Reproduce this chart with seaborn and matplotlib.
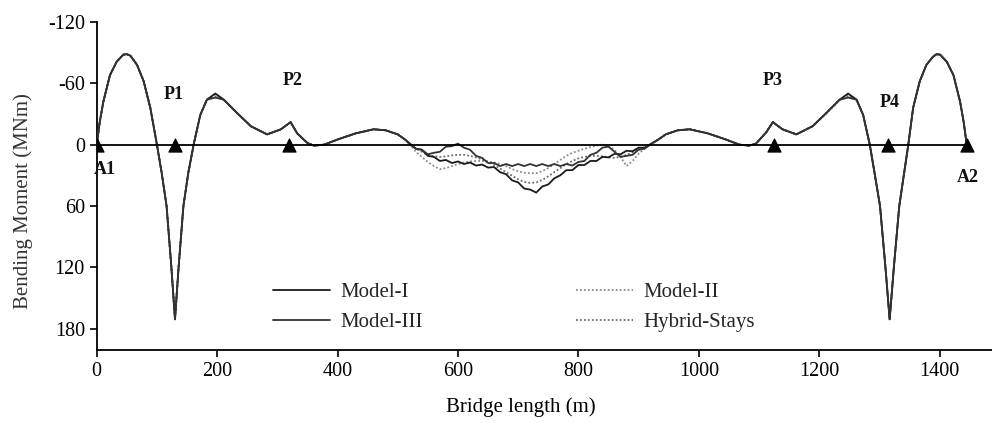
import matplotlib
matplotlib.use("Agg")
import matplotlib.pyplot as plt
import seaborn as sns
import pandas as pd

# ---------------- data ----------------
models = ["Model-I", "Model-III", "Model-II", "Hybrid-Stays"]

# common left part of the bridge (m, MNm)
x_left = [0, 5, 11, 22, 33, 44, 50, 56, 67, 78, 89, 100, 108, 116, 124, 130, 136, 144, 152, 161,
          172, 183, 197, 211, 233, 256, 283, 306, 322, 333, 350, 361, 378, 400, 430, 460, 480, 500, 512]
y_left = [0, -22, -42, -68, -81, -88, -88.5, -87, -78, -62, -36, 0, 28, 60, 120, 171, 120, 60, 28, 0,
          -29, -44, -48, -44, -31, -18, -10, -15, -22, -11, -1.5, 1, 0, -5, -11, -15, -14, -10, -5]

# central span, differs per model
x_mid = [520, 530, 540, 550, 560, 570, 580, 590, 600, 610, 620, 630, 640, 650,
         660, 670, 680, 690, 700, 710, 720, 730, 740, 750, 760, 770, 780, 790,
         800, 810, 820, 830, 840, 850, 860, 870, 880, 890, 900, 910, 920]
y_mid_model1 = [-1, 4, 5, 11, 12, 16, 15, 18, 16.5, 19, 17.5, 20.5, 19.5, 22.5,
                22, 27, 29, 35, 37, 43, 44, 47, 41, 39, 33, 30, 25, 25,
                20, 20, 16, 16, 12, 12.5, 9, 9.5, 6, 6.5, 3, 3, -0.5]
y_mid_model3 = [-1, 4, 5, 9.5, 8, 7, 2, 1.5, -1, 3, 5, 11, 13, 18,
                18, 21, 19, 21, 19, 21, 19, 21, 19, 21, 19, 21, 19, 20.5,
                17, 16, 10, 8, 3, 2, 7, 12, 11, 10, 5, 4, -0.5]
y_mid_model2 = [0, 7, 12, 17, 21, 24, 23, 21, 19, 17.5, 16.5, 16, 16, 16.5,
                17.5, 19, 21, 24, 26, 27.5, 28, 28, 26, 23, 19, 15, 11, 8,
                6, 4, 2.5, 1, 0, 1, 5, 12, 21, 16, 9, 4, 0]
y_mid_hybrid = [0, 4, 7, 10, 11.5, 12, 11.5, 10.5, 10, 10, 11, 12.5, 14.5, 17,
                20, 23.5, 27, 30.5, 34, 36.5, 37.5, 37, 34.5, 31, 27, 23, 19, 16,
                13.5, 12, 11, 11, 11.5, 12.5, 13, 12, 10, 7.5, 5, 2.5, 0]

# common right part
x_right = [933, 945, 965, 985, 1015, 1045, 1067, 1084, 1095, 1112, 1123, 1139, 1162, 1189,
           1212, 1234, 1248, 1262, 1273, 1284, 1292, 1301, 1310, 1317, 1324, 1333, 1341,
           1348, 1356, 1367, 1378, 1389, 1395, 1401, 1412, 1423, 1434, 1440, 1445]
y_right = [-5, -10, -14, -15, -11, -5, 0, 1, -1, -12, -22, -15, -10, -18,
           -31, -44, -48, -44, -29, 0, 28, 60, 120, 171, 120, 60, 28,
           0, -36, -62, -78, -86, -88.5, -88, -81, -68, -42, -22, 0]

# side-span hump peaks (m ~197 and ~1248) per model
hump_peak = [-50, -46, -49, -47]

# supports
support_x = [0, 130, 320, 1125, 1315, 1445]
support_names = ["A1", "P1", "P2", "P3", "P4", "A2"]
label_x = [14, 127, 325, 1122, 1317, 1447]
label_y = [24, -49, -63, -63, -41, 32]

# ---------------- build table ----------------
mids = [y_mid_model1, y_mid_model3, y_mid_model2, y_mid_hybrid]
rows = []
for m, mid, hp in zip(models, mids, hump_peak):
    yl = list(y_left)
    yl[x_left.index(197)] = hp
    yr = list(y_right)
    yr[x_right.index(1248)] = hp
    xs = x_left + x_mid + x_right
    ys = yl + mid + yr
    for a, b in zip(xs, ys):
        rows.append((m, a, b))
df = pd.DataFrame(rows, columns=["model", "x", "y"])

# ---------------- plot ----------------
sns.set_style("ticks")
plt.rcParams["font.family"] = ["Liberation Serif", "DejaVu Serif"]
plt.rcParams["axes.unicode_minus"] = False

fig = plt.figure(figsize=(9.92, 4.23), dpi=100)
ax = fig.add_axes([0.0975, 0.1726, 0.9025, 0.7754])

styles = {
    "Model-I": dict(color="#1a1a1a", linestyle="-", lw=1.3, zorder=4),
    "Model-III": dict(color="#333333", linestyle="-", lw=1.3, zorder=4),
    "Model-II": dict(color="#8a8a8a", linestyle=(0, (1, 1.2)), lw=1.3, zorder=3),
    "Hybrid-Stays": dict(color="#6a6a6a", linestyle=(0, (1, 1.2)), lw=1.3, zorder=3),
}
handles = {}
for m in ["Model-II", "Hybrid-Stays", "Model-I", "Model-III"]:
    sub = df[df.model == m]
    sns.lineplot(data=sub, x="x", y="y", sort=False, estimator=None, ax=ax,
                 label=m, **styles[m])
    handles[m] = ax.get_lines()[-1]

ax.hlines(0, support_x[0], support_x[-1], color="black", lw=1.3, zorder=5)
sns.scatterplot(x=support_x, y=[0] * len(support_x), marker="^", s=90,
                color="black", edgecolor="black", ax=ax, zorder=6)

for nm, lx, ly in zip(support_names, label_x, label_y):
    ax.text(lx, ly, nm, ha="center", va="center", fontsize=13, fontweight="bold",
            color="#111111")

ax.set_xlim(0, 1487)
ax.set_ylim(201, -120)
ax.set_xticks([0, 200, 400, 600, 800, 1000, 1200, 1400])
ax.set_yticks([-120, -60, 0, 60, 120, 180])
ax.tick_params(axis="both", labelsize=14.5, direction="out", length=5, width=1.2,
               colors="black")
for s in ["top", "right"]:
    ax.spines[s].set_visible(False)
for s in ["left", "bottom"]:
    ax.spines[s].set_linewidth(1.3)
    ax.spines[s].set_color("black")

ax.set_xlabel("Bridge length (m)", fontsize=15, color="black")
ax.xaxis.set_label_coords(0.474, -0.145)
ax.set_ylabel("Bending Moment (MNm)", fontsize=15, color="#333333")
ax.yaxis.set_label_coords(-0.071, 0.454)

order = ["Model-I", "Model-III", "Model-II", "Hybrid-Stays"]
ax.legend([handles[m] for m in order], order, ncol=2, loc="upper left",
          bbox_to_anchor=(0.178, 0.256), frameon=False, fontsize=15,
          handlelength=2.75, handletextpad=0.5, columnspacing=7.35,
          labelspacing=0.5, borderpad=0.3)

fig.savefig("out.png", dpi=100)
